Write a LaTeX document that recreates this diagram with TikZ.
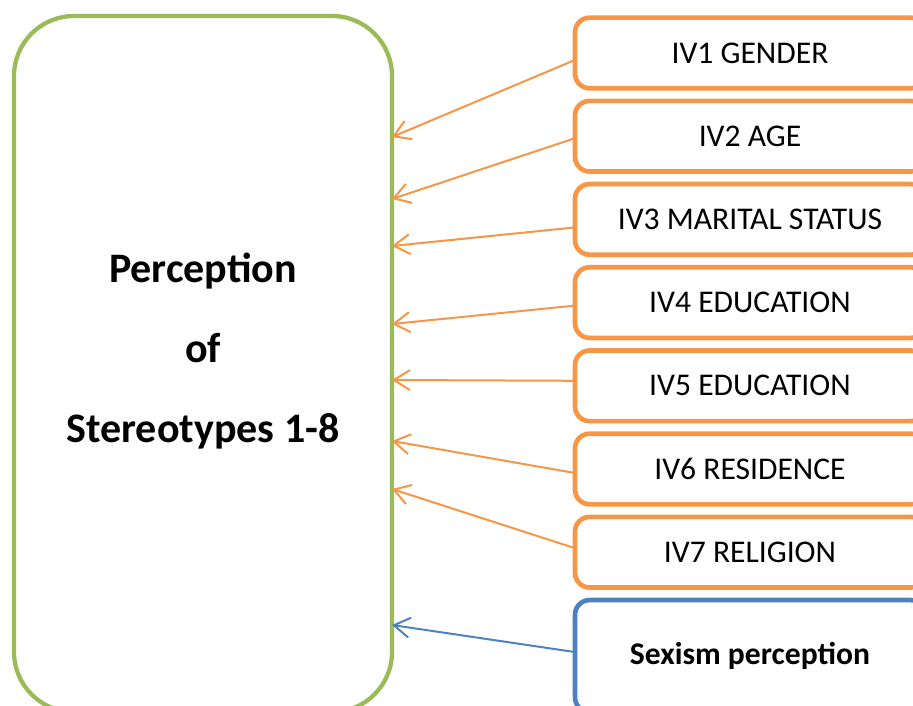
\documentclass[tikz,border=0pt]{standalone}
\usepackage{fontspec}
\setmainfont{Carlito}
\usepackage{xcolor}
\usetikzlibrary{positioning,arrows.meta,calc}

\definecolor{ivorange}{HTML}{F79646}
\definecolor{pgreen}{HTML}{9BBB59}
\definecolor{sblue}{HTML}{4F81BD}

\tikzset{
  pbox/.style={draw=pgreen, line width=3.2pt, rounded corners=45pt,
    minimum width=283.5pt, minimum height=522pt, outer sep=0pt, align=center,
    font=\fontsize{31.5pt}{60pt}\selectfont, text depth=24pt},
  ivbox/.style={draw=ivorange, line width=3.5pt, rounded corners=11pt,
    minimum width=262.5pt, minimum height=53pt, outer sep=0pt,
    font=\fontsize{23.7pt}{28pt}\selectfont},
  sbox/.style={ivbox, draw=sblue, minimum height=84pt, font=\fontsize{23.7pt}{28pt}\selectfont\bfseries}
}

\begin{document}
\begin{tikzpicture}[x=0.75pt, y=-0.75pt, >={Straight Barb[length=12pt,width=15pt]},
    line width=1.5pt, node distance=9.4pt]
  \useasboundingbox (0,0) rectangle (913,706);
  \clip (0,0) rectangle (913,706);

  \node[pbox] (P) at (203,364)
    {\textbf{Perception}\\ \textbf{of}\\ \textbf{Stereotypes 1-8}};

  \node[ivbox] (IV1) at (750,53) {IV1 GENDER};
  \node[ivbox] (IV2) [below=of IV1] {IV2 AGE};
  \node[ivbox] (IV3) [below=of IV2] {IV3 MARITAL STATUS};
  \node[ivbox] (IV4) [below=of IV3] {IV4 EDUCATION};
  \node[ivbox] (IV5) [below=of IV4] {IV5 EDUCATION};
  \node[ivbox] (IV6) [below=of IV5] {IV6 RESIDENCE};
  \node[ivbox] (IV7) [below=of IV6] {IV7 RELIGION};
  \node[sbox]  (S)   [below=of IV7] {Sexism perception};

  \path[color=ivorange, every edge/.style={draw, ->}]
    ($(IV1.west)+(0,7)$)  edge ($(P.east)+(0,-227)$)
    ($(IV2.west)+(0,2)$)  edge ($(P.east)+(0,-165)$)
    ($(IV3.west)+(0,8)$)  edge ($(P.east)+(0,-118)$)
    ($(IV4.west)+(0,3)$)  edge ($(P.east)+(0,-40)$)
    ($(IV5.west)+(0,-5)$) edge ($(P.east)+(0,16)$)
    ($(IV6.west)+(0,4)$)  edge ($(P.east)+(0,77)$)
    ($(IV7.west)+(0,-4)$) edge ($(P.east)+(0,125)$);
  \path[color=sblue, every edge/.style={draw, ->}]
    ($(S.west)+(0,-4)$) edge ($(P.east)+(0,261)$);
\end{tikzpicture}
\end{document}
